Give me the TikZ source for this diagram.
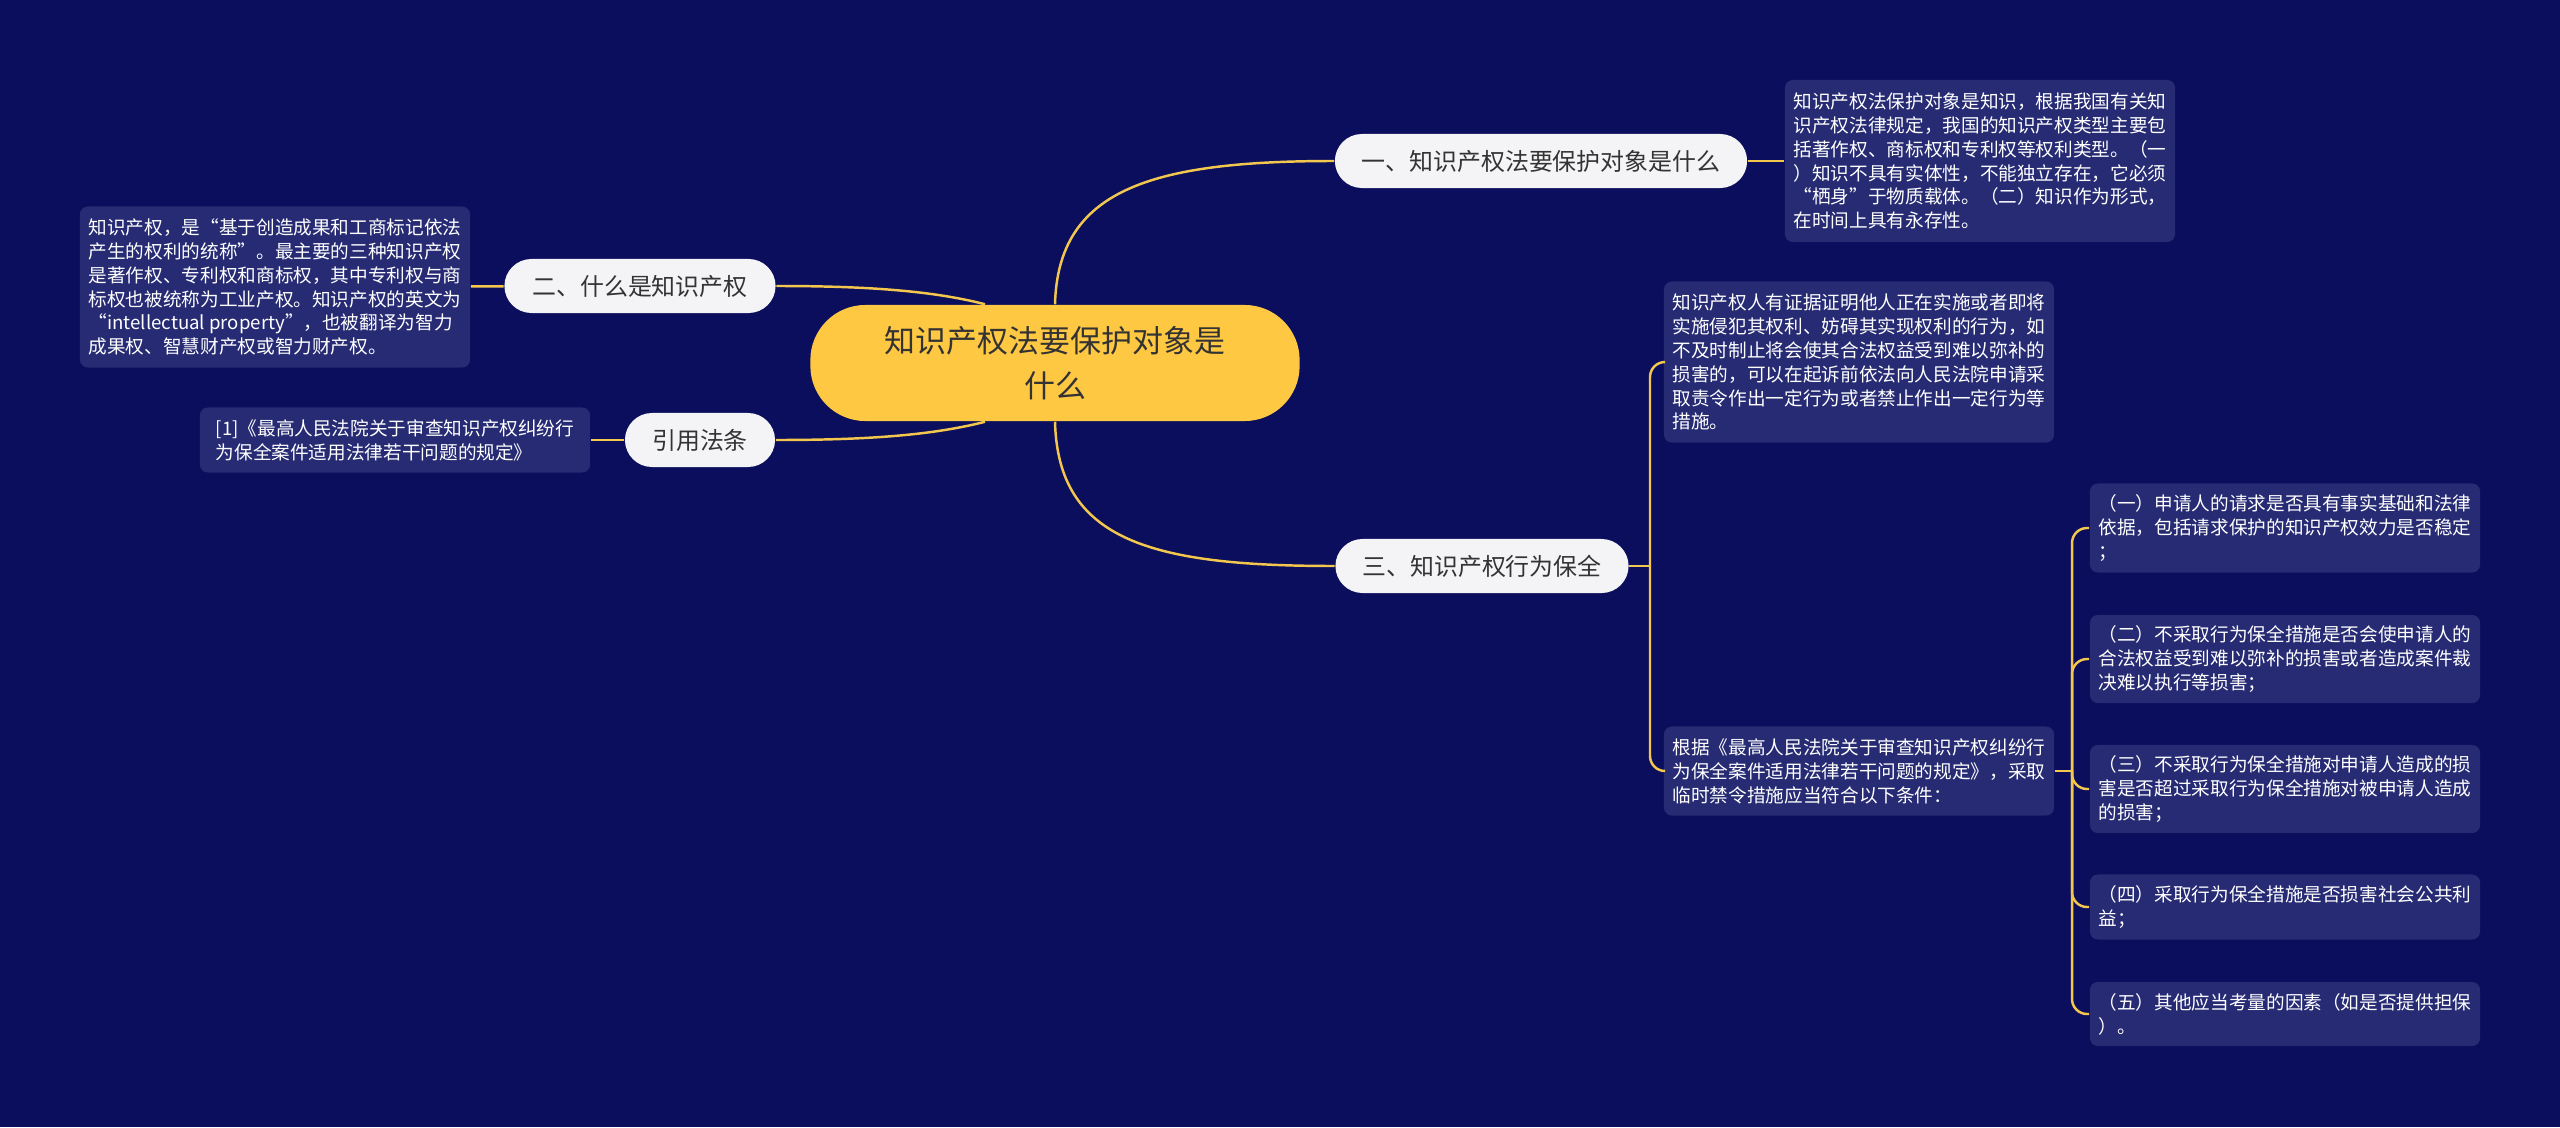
\documentclass[tikz,border=0pt]{standalone}
\usepackage{fontspec}
\setmainfont{Noto Sans CJK SC}
\definecolor{bgblue}{HTML}{0A0E5C}
\definecolor{boxblue}{HTML}{262B74}
\definecolor{gold}{HTML}{FFC843}
\definecolor{linegold}{HTML}{F3C64E}
\definecolor{pillgray}{HTML}{F4F4F6}
\definecolor{inkgray}{HTML}{333333}

\begin{document}
\begin{tikzpicture}[x=0.01cm,y=-0.01cm,
  link/.style={draw=linegold,line width=0.7pt},
  root node/.style={rectangle,rounded corners=5.5mm,fill=gold,text=inkgray,align=center,minimum width=4.89cm,minimum height=1.16cm,font=\fontsize{8.8}{12.8}\selectfont},
  main node/.style={rectangle,rounded corners=2.7mm,fill=pillgray,text=inkgray,minimum height=0.54cm,inner xsep=0pt,font=\fontsize{6.8}{8}\selectfont},
  leaf node/.style={rectangle,rounded corners=0.8mm,fill=boxblue,text=white,align=left,minimum width=3.9cm,inner sep=0.8mm,font=\fontsize{5.3}{6.8}\selectfont}, ]

  \useasboundingbox (0,0) rectangle (2560,1127);
  \fill[bgblue] (0,0) rectangle (2560,1127);

  \node[root node] (0) at (1055,363) {知识产权法要保护对象是\\什么};

  \node[main node,minimum width=4.12cm] (1) at (1541,161) {一、知识产权法要保护对象是什么};
  \node[main node,minimum width=2.71cm] (2) at (640,286) {二、什么是知识产权};
  \node[main node,minimum width=1.50cm] (3) at (700,440) {引用法条};
  \node[main node,minimum width=2.93cm] (4) at (1482,566) {三、知识产权行为保全};

  \node[leaf node,minimum height=1.62cm] (5) at (1980,161) {知识产权法保护对象是知识，根据我国有关知\\识产权法律规定，我国的知识产权类型主要包\\括著作权、商标权和专利权等权利类型。（一\\）知识不具有实体性，不能独立存在，它必须\\“栖身”于物质载体。（二）知识作为形式，\\在时间上具有永存性。};
  \node[leaf node,minimum height=1.61cm] (6) at (275,287) {知识产权，是“基于创造成果和工商标记依法\\产生的权利的统称”。最主要的三种知识产权\\是著作权、专利权和商标权，其中专利权与商\\标权也被统称为工业产权。知识产权的英文为\\“intellectual property”，也被翻译为智力\\成果权、智慧财产权或智力财产权。};
  \node[leaf node,minimum height=0.65cm] (7) at (395,440) {[1]《最高人民法院关于审查知识产权纠纷行\\为保全案件适用法律若干问题的规定》};
  \node[leaf node,minimum height=1.61cm] (8) at (1859,362) {知识产权人有证据证明他人正在实施或者即将\\实施侵犯其权利、妨碍其实现权利的行为，如\\不及时制止将会使其合法权益受到难以弥补的\\损害的，可以在起诉前依法向人民法院申请采\\取责令作出一定行为或者禁止作出一定行为等\\措施。};
  \node[leaf node,minimum height=0.89cm] (9) at (1859,771) {根据《最高人民法院关于审查知识产权纠纷行\\为保全案件适用法律若干问题的规定》，采取\\临时禁令措施应当符合以下条件：};

  \node[leaf node,minimum height=0.89cm] (10) at (2285,528) {（一）申请人的请求是否具有事实基础和法律\\依据，包括请求保护的知识产权效力是否稳定\\；};
  \node[leaf node,minimum height=0.88cm] (11) at (2285,659) {（二）不采取行为保全措施是否会使申请人的\\合法权益受到难以弥补的损害或者造成案件裁\\决难以执行等损害；};
  \node[leaf node,minimum height=0.88cm] (12) at (2285,789) {（三）不采取行为保全措施对申请人造成的损\\害是否超过采取行为保全措施对被申请人造成\\的损害；};
  \node[leaf node,minimum height=0.65cm] (13) at (2285,907) {（四）采取行为保全措施是否损害社会公共利\\益；};
  \node[leaf node,minimum height=0.64cm] (14) at (2285,1014) {（五）其他应当考量的因素（如是否提供担保\\）。};

  \coordinate (j1) at (1650,566);
  \coordinate (j2) at (2072,771);

  % branches out of the root
  \draw[link] (0.north) .. controls (1058,190) and (1150,161) .. (1.west);
  \draw[link] (0.south) .. controls (1058,540) and (1150,566) .. (4.west);
  \draw[link] (0.140) .. controls (930,290) and (860,286) .. (2.east);
  \draw[link] (0.220) .. controls (930,436) and (860,440) .. (3.east);

  \path[link]
  (1) edge (5)
  (2) edge (6)
  (3) edge (7);

  % brackets
  \draw[link] (4.east) -- (j1);
  \draw[link,rounded corners=1.5mm] (j1) |- (8.west);
  \draw[link,rounded corners=1.5mm] (j1) |- (9.west);
  \draw[link] (9.east) -- (j2);
  \foreach \n in {10,...,14}
    \draw[link,rounded corners=1.5mm] (j2) |- (\n.west);
\end{tikzpicture}
\end{document}
